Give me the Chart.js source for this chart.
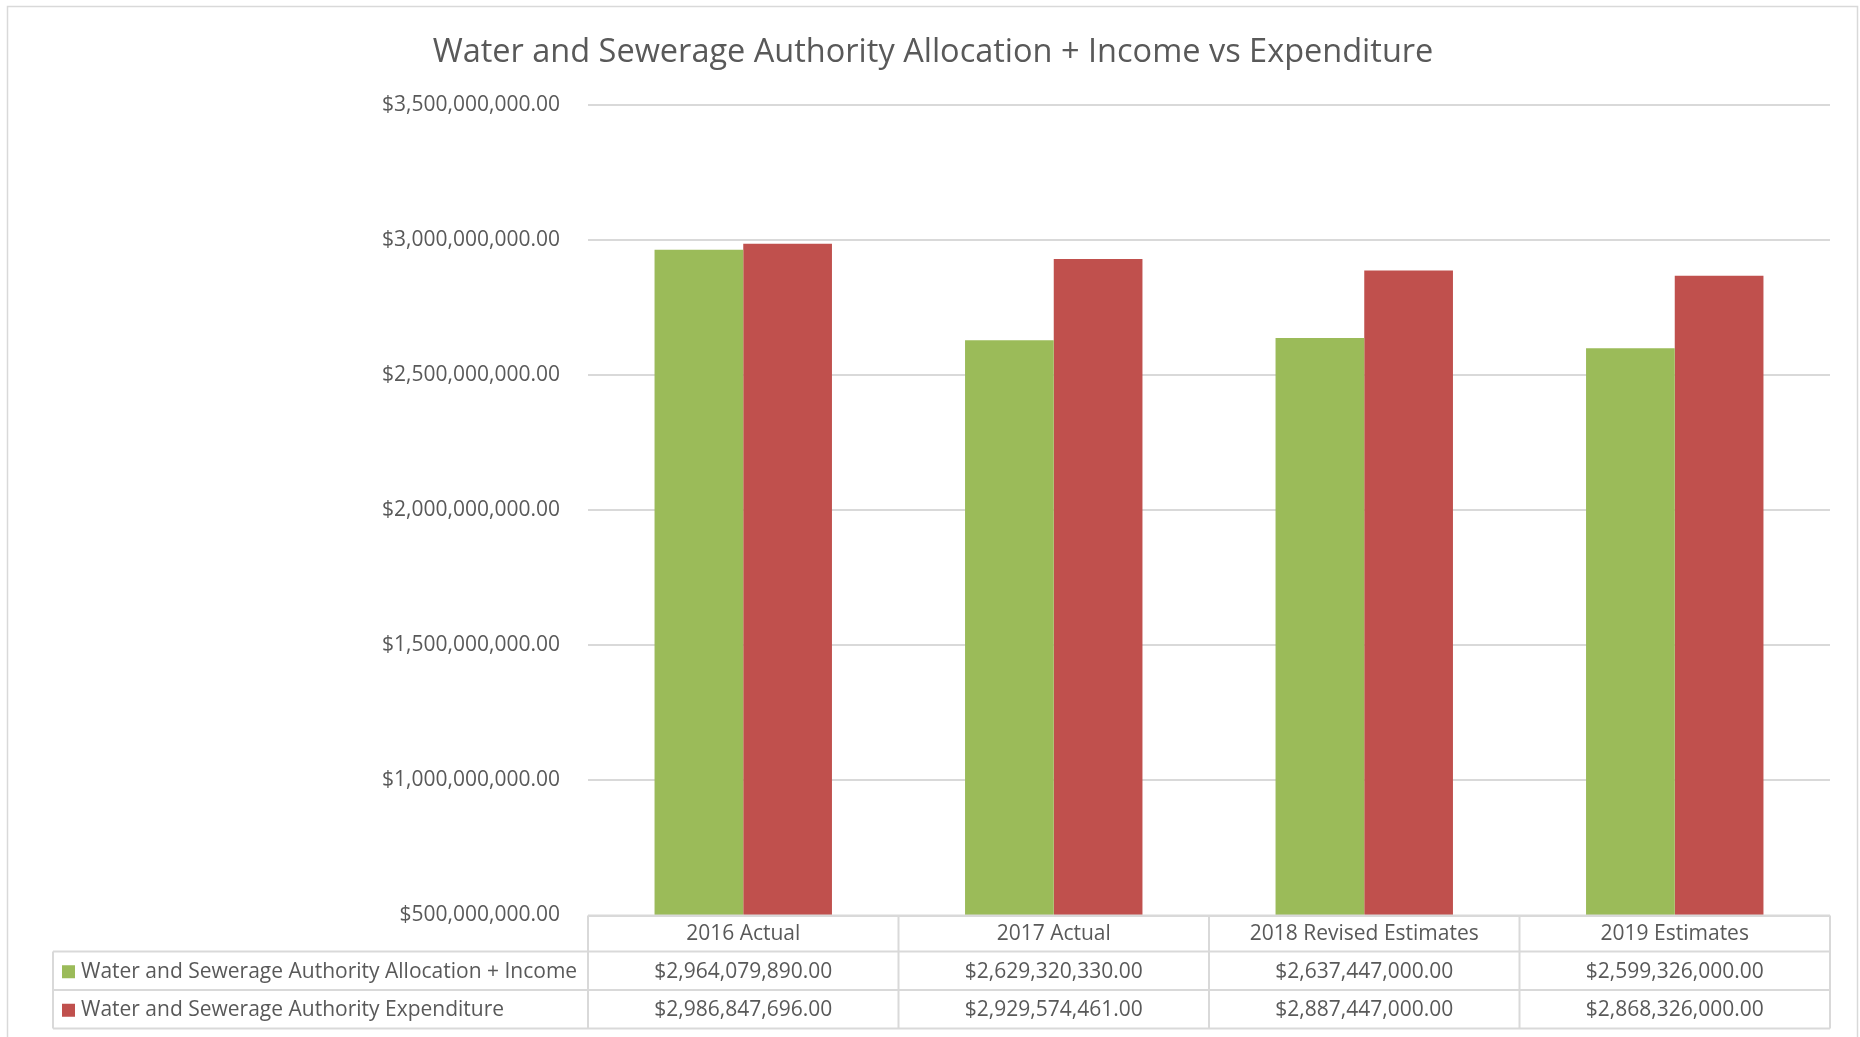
<!DOCTYPE html>
<html>
<head>
<meta charset="utf-8">
<script src="https://cdn.jsdelivr.net/npm/chart.js@4"></script>
<style>
  html, body { margin: 0; padding: 0; background: #fff; }
  #wrap { width: 1860px; height: 1037px; position: relative; }
</style>
</head>
<body>
<div id="wrap"><canvas id="chart"></canvas></div>
<script>
const categories = ["2016 Actual", "2017 Actual", "2018 Revised Estimates", "2019 Estimates"];
const incomeLabel = "Water and Sewerage Authority Allocation + Income";
const expenditureLabel = "Water and Sewerage Authority Expenditure";
const income = [2964079890, 2629320330, 2637447000, 2599326000];
const expenditure = [2986847696, 2929574461, 2887447000, 2868326000];
const yMin = 500000000;
const yMax = 3500000000;
const yStep = 500000000;

const textColor = "#595959";
const lineColor = "#d9d9d9";
const fontFamily = "'Open Sans', sans-serif";

Chart.defaults.font.family = fontFamily;
Chart.defaults.color = textColor;

const money = (v) =>
  "$" + v.toLocaleString("en-US", { minimumFractionDigits: 2, maximumFractionDigits: 2 });

// outer frame of the chart object
const framePlugin = {
  id: "frame",
  beforeDraw(chart) {
    const ctx = chart.ctx;
    ctx.save();
    ctx.fillStyle = "#fff";
    ctx.fillRect(0, 0, chart.width, chart.height);
    ctx.strokeStyle = lineColor;
    ctx.lineWidth = 1.5;
    ctx.strokeRect(7.5, 6.5, 1850, 1100);
    ctx.restore();
  },
};

// data table under the plot, columns follow the x scale
const tablePlugin = {
  id: "dataTable",
  afterDraw(chart) {
    const ctx = chart.ctx;
    const x = chart.scales.x;
    const area = chart.chartArea;
    const colW = (x.right - x.left) / categories.length;
    const rows = [area.bottom, 951.5, 990, 1028.5];
    const legendLeft = 53;
    const series = [
      { label: incomeLabel, color: chart.data.datasets[0].backgroundColor, values: income },
      { label: expenditureLabel, color: chart.data.datasets[1].backgroundColor, values: expenditure },
    ];

    ctx.save();
    ctx.strokeStyle = lineColor;
    ctx.lineWidth = 2;
    ctx.beginPath();
    // horizontal lines
    ctx.moveTo(area.left, rows[0]);
    ctx.lineTo(area.right, rows[0]);
    for (let r = 1; r < rows.length; r++) {
      ctx.moveTo(legendLeft, rows[r]);
      ctx.lineTo(area.right, rows[r]);
    }
    // vertical lines
    ctx.moveTo(legendLeft, rows[1]);
    ctx.lineTo(legendLeft, rows[3]);
    for (let i = 0; i <= categories.length; i++) {
      const cx = x.left + colW * i;
      ctx.moveTo(cx, rows[0]);
      ctx.lineTo(cx, rows[3]);
    }
    ctx.stroke();

    ctx.fillStyle = textColor;
    ctx.font = "21px " + fontFamily;
    ctx.textAlign = "center";
    ctx.textBaseline = "middle";
    categories.forEach((c, i) => {
      ctx.fillText(c, x.getPixelForValue(i), (rows[0] + rows[1]) / 2 + 1);
    });
    series.forEach((s, r) => {
      const cy = (rows[r + 1] + rows[r + 2]) / 2 + 1;
      ctx.fillStyle = s.color;
      ctx.fillRect(62, cy - 6.5, 13, 13);
      ctx.fillStyle = textColor;
      ctx.textAlign = "left";
      ctx.fillText(s.label, 81, cy);
      ctx.textAlign = "center";
      s.values.forEach((v, i) => {
        ctx.fillText(money(v), x.getPixelForValue(i), cy);
      });
    });
    ctx.restore();
  },
};

new Chart(document.getElementById("chart").getContext("2d"), {
  type: "bar",
  data: {
    labels: categories,
    datasets: [
      { label: incomeLabel, data: income, backgroundColor: "#9bbb59" },
      { label: expenditureLabel, data: expenditure, backgroundColor: "#c0504d" },
    ],
  },
  options: {
    responsive: true,
    maintainAspectRatio: false,
    animation: false,
    datasets: {
      bar: { categoryPercentage: 0.5714, barPercentage: 1 },
    },
    layout: { padding: { left: 36, right: 30, top: 0, bottom: 121.5 } },
    scales: {
      x: { display: false },
      y: {
        min: yMin,
        max: yMax,
        border: { display: false },
        grid: { color: lineColor, lineWidth: 2, drawTicks: false },
        ticks: {
          stepSize: yStep,
          padding: 28,
          color: textColor,
          font: { size: 21 },
          callback: (v) => money(v),
        },
        afterFit: (scale) => {
          scale.width = 552;
        },
      },
    },
    plugins: {
      legend: { display: false },
      tooltip: { enabled: false },
      title: {
        display: true,
        text: "Water and Sewerage Authority Allocation + Income vs Expenditure",
        color: textColor,
        font: { size: 32.5, weight: "normal" },
        padding: { top: 33, bottom: 33 },
      },
    },
  },
  plugins: [framePlugin, tablePlugin],
});
</script>
</body>
</html>
